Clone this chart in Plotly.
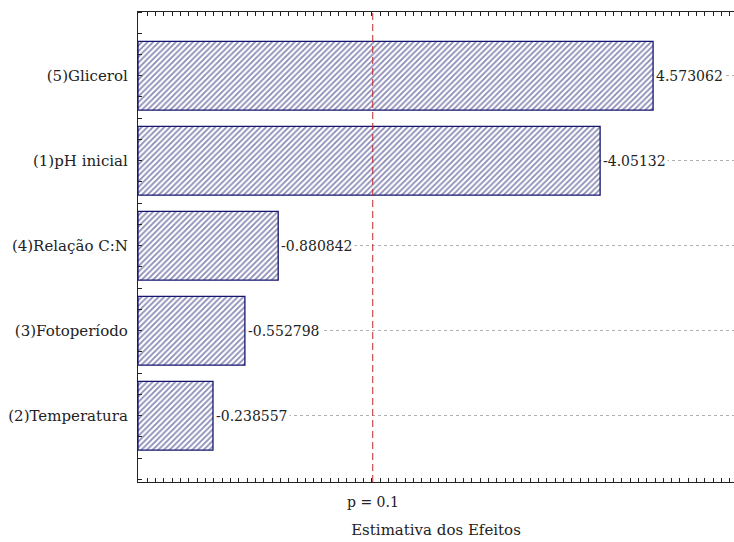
import plotly.graph_objects as go

# Standardized effect estimates (Pareto chart of effects)
factors = ["(2)Temperatura", "(3)Fotoperíodo", "(4)Relação C:N", "(1)pH inicial", "(5)Glicerol"]
effects = [-0.238557, -0.552798, -0.880842, -4.05132, 4.573062]
p_crit = 1.812          # critical value for p = 0.1
p_label = "p = 0.1"
x_min, x_max = -0.5, 5.37

abs_eff = [abs(e) for e in effects]
lengths = [a - x_min for a in abs_eff]
pos = list(range(len(factors)))

navy = "#16166e"
font = "DejaVu Serif"

fig = go.Figure()
fig.add_trace(go.Bar(
    y=pos, x=lengths, base=x_min, orientation="h",
    width=0.81,
    marker=dict(
        color="white",
        line=dict(color=navy, width=1.3),
        pattern=dict(shape="/", fgcolor=navy, bgcolor="white", size=4, solidity=0.45, fillmode="overlay"),
    ),
    hoverinfo="skip",
))

# effect values printed after each bar
for p, a, e in zip(pos, abs_eff, effects):
    fig.add_annotation(
        x=a, y=p, text=f"{e:.7g}",
        xanchor="left", yanchor="middle", showarrow=False, xshift=1,
        bgcolor="white", font=dict(family=font, size=14, color="#222"),
        borderpad=1,
    )

# significance threshold line and its label under the axis
fig.add_shape(
    type="line", xref="x", yref="paper", x0=p_crit, x1=p_crit, y0=0, y1=1,
    line=dict(color="#c0282d", width=1, dash="7px,4px"), layer="above",
)
fig.add_annotation(
    x=p_crit, xref="x", y=0, yref="paper", text=p_label,
    xanchor="center", yanchor="top", yshift=-10, showarrow=False,
    font=dict(family=font, size=14, color="#222"),
)

fig.update_layout(
    width=734, height=542,
    margin=dict(l=138, r=0, t=12, b=60),
    paper_bgcolor="white", plot_bgcolor="white",
    showlegend=False,
    font=dict(family=font, size=14, color="#222"),
    xaxis=dict(
        range=[x_min, x_max], showgrid=False, zeroline=False,
        showline=True, linecolor="#222", linewidth=1.3, mirror="ticks",
        tickmode="linear", tick0=0, dtick=0.082,
        ticks="inside", ticklen=4, tickwidth=1, tickcolor="#222",
        showticklabels=False,
        title=dict(text="Estimativa dos Efeitos", font=dict(family=font, size=15), standoff=42),
    ),
    yaxis=dict(
        range=[-0.78, 4.75], showgrid=True, gridcolor="#b0b0b0", griddash="dot", gridwidth=1,
        showline=True, linecolor="#222", linewidth=1.3, zeroline=False,
        tickvals=pos, ticktext=factors,
        ticks="", ticklabelstandoff=6,
        minor=dict(dtick=0.25, tick0=0.5, ticks="inside", ticklen=4, tickcolor="#222", showgrid=False),
        tickfont=dict(family=font, size=15),
    ),
)

fig.write_html("out.html")
